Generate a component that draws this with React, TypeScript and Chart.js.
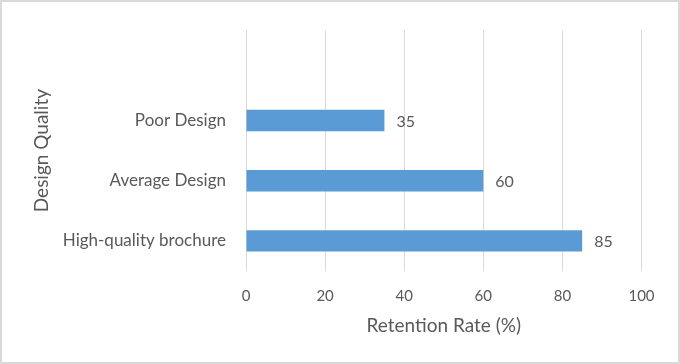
import React, { useEffect, useRef } from "react";
import { Chart, registerables } from "chart.js";

Chart.register(...registerables);

const categories: string[] = ["", "Poor Design", "Average Design", "High-quality brochure"];
const retention: (number | null)[] = [null, 35, 60, 85];
const xTicks: number[] = [0, 20, 40, 60, 80, 100];

const TEXT = "#595959";
const FONT = "Lato";

const labelPlugin = {
  id: "barLabels",
  afterDatasetsDraw(chart: any) {
    const { ctx } = chart;
    const meta = chart.getDatasetMeta(0);
    ctx.save();
    ctx.font = `16px ${FONT}`;
    ctx.fillStyle = TEXT;
    ctx.textAlign = "left";
    ctx.textBaseline = "middle";
    meta.data.forEach((el: any, i: number) => {
      const v = retention[i];
      if (v == null) return;
      ctx.fillText(String(v), el.x + 12, el.y + 1);
    });
    ctx.restore();
  },
};

const borderPlugin = {
  id: "outerBorder",
  afterDraw(chart: any) {
    const { ctx, width, height } = chart;
    ctx.save();
    ctx.strokeStyle = "#D9D9D9";
    ctx.lineWidth = 2;
    ctx.strokeRect(1, 1, width - 2, height - 2);
    ctx.restore();
  },
};

export default function App() {
  const ref = useRef<HTMLCanvasElement>(null);
  useEffect(() => {
    document.body.style.margin = "0";
    const chart = new Chart(ref.current!, {
      type: "bar",
      data: {
        labels: categories,
        datasets: [
          {
            data: retention,
            backgroundColor: "#5B9BD5",
            barPercentage: 0.355,
            categoryPercentage: 1,
          },
        ],
      },
      options: {
        indexAxis: "y",
        animation: false,
        responsive: false,
        maintainAspectRatio: false,
        layout: { padding: { top: 23, right: 38.5, left: 0, bottom: 0 } },
        plugins: { legend: { display: false }, tooltip: { enabled: false } },
        scales: {
          x: {
            min: 0,
            max: 100,
            afterBuildTicks: (s: any) => {
              s.ticks = xTicks.map((v) => ({ value: v }));
            },
            grid: { color: "#D9D9D9", lineWidth: 1, drawTicks: false },
            border: { display: false },
            ticks: { color: TEXT, font: { family: FONT, size: 15 }, padding: 16 },
            title: {
              display: true,
              text: "Retention Rate (%)",
              color: TEXT,
              font: { family: FONT, size: 19 },
              padding: { top: 0, bottom: 27 },
            },
            afterFit: (s: any) => {
              s.height = 93;
            },
          },
          y: {
            grid: { display: false, drawTicks: false },
            border: { display: false },
            ticks: { color: TEXT, font: { family: FONT, size: 17 }, padding: 20 },
            title: {
              display: true,
              text: "Design Quality",
              color: TEXT,
              font: { family: FONT, size: 19 },
              padding: { top: 30, bottom: 0 },
            },
            afterFit: (s: any) => {
              s.width = 246;
            },
          },
        },
      },
      plugins: [labelPlugin, borderPlugin],
    });
    return () => chart.destroy();
  }, []);
  return (
    <div style={{ position: "fixed", left: 0, top: 0, width: 680, height: 364, background: "#fff" }}>
      <canvas
        ref={ref}
        width={680}
        height={364}
        style={{ position: "absolute", left: 0, top: 0, width: 680, height: 364 }}
      />
    </div>
  );
}
